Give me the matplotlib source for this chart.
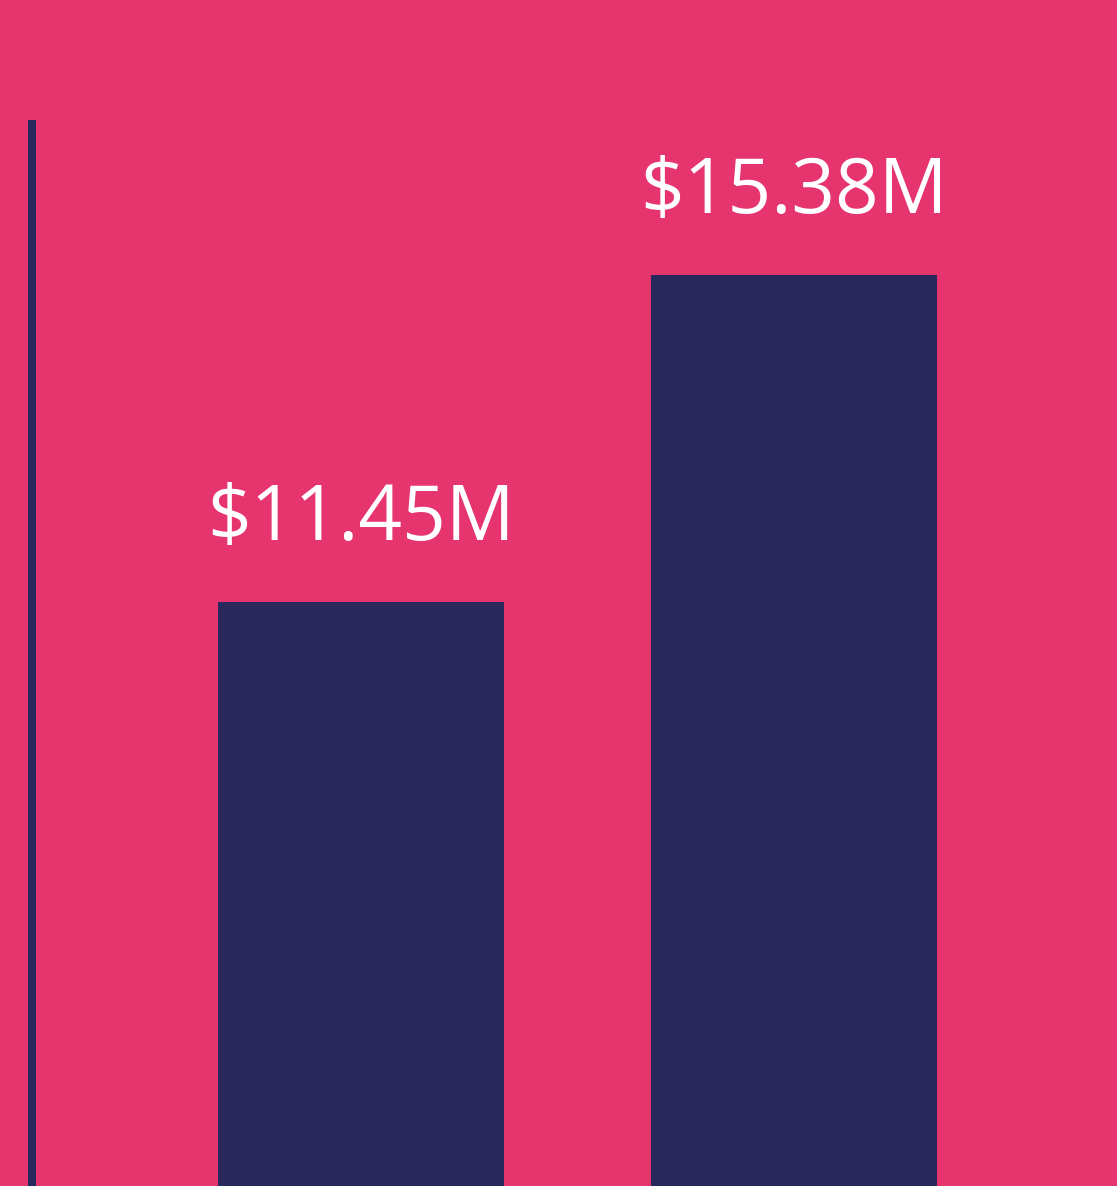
import matplotlib
matplotlib.use("Agg")
import matplotlib.pyplot as plt

categories = ["A", "B"]
values = [11.45, 15.38]
labels = ["$11.45M", "$15.38M"]

BG = "#E6346F"
BAR = "#29285C"

W, H = 1117, 1186
fig = plt.figure(figsize=(W / 100, H / 100), dpi=100, facecolor=BG)

# axes baseline lies below the visible figure (cropped chart)
base_px = 1555
top_px = 120
left_px = 32
ax = fig.add_axes([left_px / W, (H - base_px) / H, 1 - left_px / W, (base_px - top_px) / H])
ax.set_facecolor(BG)

px_per_unit = (base_px - 275) / values[1]
ymax = (base_px - top_px) / px_per_unit
ax.set_ylim(0, ymax)

x = list(range(len(categories)))
spacing = 433.0
ax.set_xlim(-(361 - left_px) / spacing, 1 + (W - 794) / spacing)
ax.bar(x, values, width=286 / spacing, color=BAR)

for xi, v, lab in zip(x, values, labels):
    ax.text(xi, v + 62 / px_per_unit, lab, ha="center", va="baseline",
            color="white", fontsize=55, family=["Open Sans", "DejaVu Sans"])

for s in ["top", "right", "bottom"]:
    ax.spines[s].set_visible(False)
ax.spines["left"].set_color(BAR)
ax.spines["left"].set_linewidth(8 * 72 / 100)
ax.spines["left"].set_capstyle("butt")
ax.set_xticks([])
ax.set_yticks([])

fig.savefig("out.png", dpi=100, facecolor=BG)
